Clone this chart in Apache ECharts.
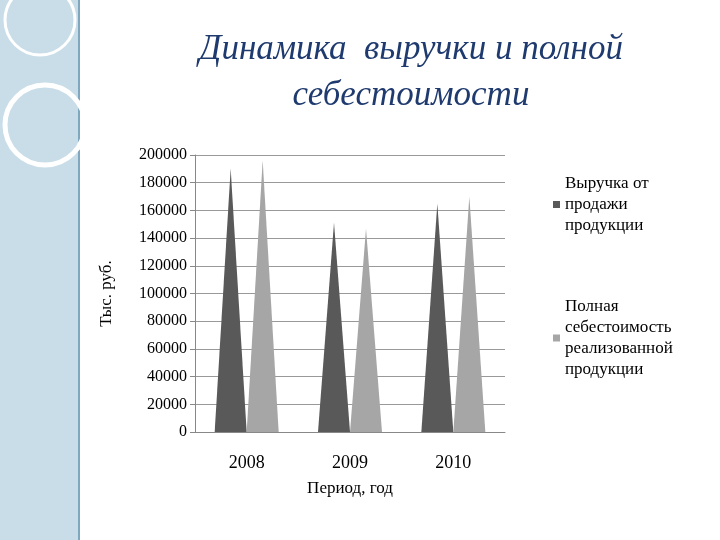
<!DOCTYPE html>
<html><head><meta charset="utf-8">
<script src="https://cdn.jsdelivr.net/npm/echarts@6/dist/echarts.min.js"></script>
<style>body{margin:0;background:#fff}#c{width:720px;height:540px}</style>
</head><body><div id="c"></div>
<script>
var years = ['2008', '2009', '2010'];
var revenue = [190000, 151000, 165000];
var cost = [196000, 147000, 170000];
var seriesNames = ['Выручка от\nпродажи\nпродукции', 'Полная\nсебестоимость\nреализованной\nпродукции'];

var chart = echarts.init(document.getElementById('c'));
var font = 'Liberation Serif';
chart.setOption({
    graphic: [
        {type: 'rect', shape: {x: 0, y: 0, width: 78, height: 540}, style: {fill: '#c9dde8'}},
        {type: 'rect', shape: {x: 78, y: 0, width: 2, height: 540}, style: {fill: '#7fa7bf'}},
        {type: 'circle', shape: {cx: 45, cy: 125, r: 40}, style: {fill: 'none', stroke: '#ffffff', lineWidth: 5}},
        {type: 'circle', shape: {cx: 40, cy: 20, r: 35}, style: {fill: 'none', stroke: '#ffffff', lineWidth: 3}}
    ],
    title: {
        text: 'Динамика  выручки и полной\nсебестоимости',
        left: 406, top: 22, textAlign: 'center',
        textStyle: {fontFamily: font, fontStyle: 'italic', fontWeight: 'normal', fontSize: 35, color: '#1f3a6e', lineHeight: 46}
    },
    legend: {
        orient: 'vertical', left: 548, top: 168, itemGap: 60,
        itemWidth: 7, itemHeight: 7, icon: 'rect',
        data: seriesNames,
        textStyle: {fontFamily: font, fontSize: 17, color: '#000', lineHeight: 21}
    },
    grid: {left: 195, right: 215, top: 155, bottom: 108},
    xAxis: {
        type: 'category', data: years,
        name: 'Период, год', nameLocation: 'middle', nameGap: 48,
        nameTextStyle: {fontFamily: font, fontSize: 17, color: '#000'},
        axisLabel: {fontFamily: font, fontSize: 18, color: '#000', margin: 22},
        axisTick: {show: false},
        axisLine: {lineStyle: {color: '#888'}}
    },
    yAxis: {
        type: 'value', min: 0, max: 200000, interval: 20000,
        name: 'Тыс. руб.', nameLocation: 'middle', nameGap: 80,
        nameTextStyle: {fontFamily: font, fontSize: 17, color: '#000'},
        axisLabel: {fontFamily: font, fontSize: 16, color: '#000', formatter: function (v) { return String(v); }},
        axisLine: {show: true, lineStyle: {color: '#888'}},
        axisTick: {show: true, lineStyle: {color: '#888'}},
        splitLine: {lineStyle: {color: '#999'}}
    },
    series: [
        {name: seriesNames[0], type: 'pictorialBar', symbol: 'triangle', symbolSize: [32, '100%'],
         symbolOffset: ['-50%', 0], itemStyle: {color: '#595959'}, data: revenue},
        {name: seriesNames[1], type: 'pictorialBar', symbol: 'triangle', symbolSize: [32, '100%'],
         symbolOffset: ['50%', 0], itemStyle: {color: '#a6a6a6'}, data: cost}
    ]
});
</script></body></html>
